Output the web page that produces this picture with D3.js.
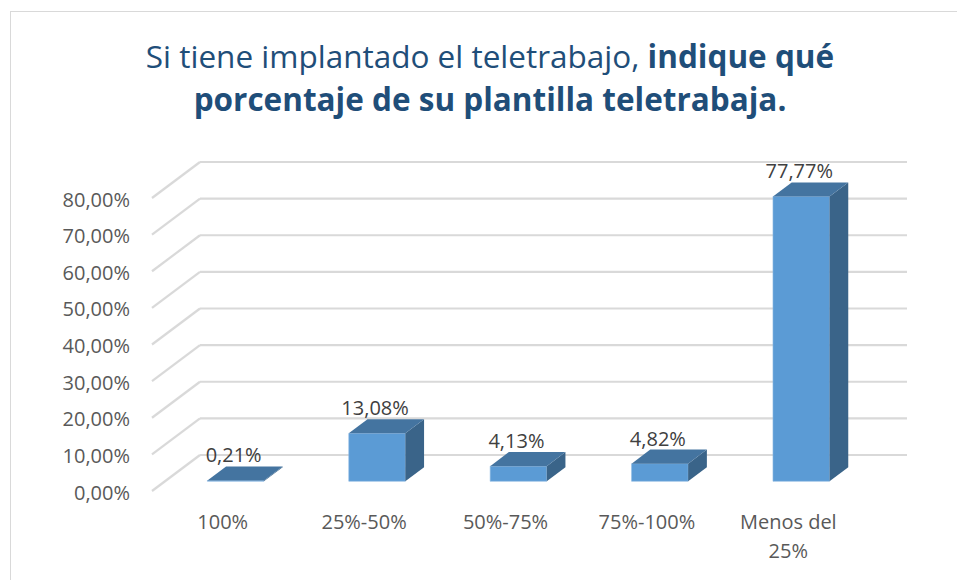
<!DOCTYPE html>
<html>
<head>
<meta charset="utf-8">
<script src="https://cdn.jsdelivr.net/npm/d3@7"></script>
<style>
  body { margin: 0; background: #fff; }
  svg { display: block; font-family: "Open Sans", "Noto Sans", sans-serif; }
</style>
</head>
<body>
<svg width="957" height="580"></svg>
<script>
// datos del gráfico
const categorias = ["100%", "25%-50%", "50%-75%", "75%-100%", "Menos del 25%"];
const valores = [0.21, 13.08, 4.13, 4.82, 77.77];
const ticks = [0, 10, 20, 30, 40, 50, 60, 70, 80];

const svg = d3.select("svg");
const es = d3.formatLocale({ decimal: ",", thousands: ".", grouping: [3], currency: ["", "€"] });
const fmt = es.format(".2f");

// marco
svg.append("rect")
    .attr("x", 10.5).attr("y", 11.5)
    .attr("width", 980).attr("height", 600)
    .attr("fill", "#fff").attr("stroke", "#d9d9d9");

// título
const titulo = svg.append("text")
    .attr("text-anchor", "middle")
    .attr("fill", "#1f4e79")
    .attr("font-size", 31.5);
const l1 = titulo.append("tspan").attr("x", 490).attr("y", 68);
l1.append("tspan").text("Si tiene implantado el teletrabajo, ");
l1.append("tspan").attr("font-weight", "bold").text("indique qué");
titulo.append("tspan").attr("x", 490).attr("y", 111)
    .attr("font-weight", "bold").text("porcentaje de su plantilla teletrabaja.");

// escalas (plano frontal) y profundidad
const x = d3.scaleBand().domain(categorias).range([152, 859]).paddingInner(0.6).paddingOuter(0.3);
const y = d3.scaleLinear().domain([0, 80]).range([491, 198]);
const DX = 48, DY = -36;   // desplazamiento de la profundidad completa
const d0 = 0.27, d1 = 0.66; // profundidad de las barras
const p = (px, v, d) => [px + d * DX, y(v) + d * DY];

const g = svg.append("g");

// cuadrícula: pared trasera y pared lateral
g.selectAll(".back").data(ticks).enter().append("line")
    .attr("x1", 152 + DX).attr("x2", 859 + DX)
    .attr("y1", d => y(d) + DY).attr("y2", d => y(d) + DY)
    .attr("stroke", "#d9d9d9").attr("stroke-width", 2.2);
g.selectAll(".side").data(ticks).enter().append("line")
    .attr("x1", 152).attr("y1", d => y(d))
    .attr("x2", 152 + DX).attr("y2", d => y(d) + DY)
    .attr("stroke", "#d9d9d9").attr("stroke-width", 2.2);

// etiquetas del eje Y
g.selectAll(".ytick").data(ticks).enter().append("text")
    .attr("x", 130).attr("y", d => y(d) + 1)
    .attr("text-anchor", "end").attr("dominant-baseline", "central")
    .attr("font-size", 20).attr("fill", "#595959")
    .text(d => fmt(d) + "%");

// barras 3D
const filas = categorias.map((c, i) => ({ c, v: valores[i] }));
const bw = x.bandwidth();
const poly = pts => pts.map(q => q.join(",")).join(" ");

const barras = g.selectAll(".bar").data(filas).enter().append("g");
barras.append("polygon")  // cara frontal
    .attr("points", d => {
        const x0 = x(d.c);
        return poly([p(x0, 0, d0), p(x0 + bw, 0, d0), p(x0 + bw, d.v, d0), p(x0, d.v, d0)]);
    })
    .attr("fill", "#5b9bd5").attr("stroke", "#8bb8e3").attr("stroke-width", 0.6);
barras.append("polygon")  // cara lateral
    .attr("points", d => {
        const x1 = x(d.c) + bw;
        return poly([p(x1, 0, d0), p(x1, 0, d1), p(x1, d.v, d1), p(x1, d.v, d0)]);
    })
    .attr("fill", "#3a6489");
barras.append("polygon")  // cara superior
    .attr("points", d => {
        const x0 = x(d.c);
        return poly([p(x0, d.v, d0), p(x0 + bw, d.v, d0), p(x0 + bw, d.v, d1), p(x0, d.v, d1)]);
    })
    .attr("fill", "#4474a0");

// etiquetas de datos
barras.append("text")
    .attr("x", d => p(x(d.c) + bw / 2, d.v, d0)[0] - 2)
    .attr("y", d => p(0, d.v, d1)[1] - 4)
    .attr("text-anchor", "middle")
    .attr("font-size", 20).attr("fill", "#404040")
    .text(d => fmt(d.v) + "%");

// etiquetas de categorías
const cat = g.selectAll(".cat").data(categorias).enter().append("text")
    .attr("text-anchor", "middle")
    .attr("font-size", 20).attr("fill", "#595959")
    .attr("y", 529);
cat.each(function (c) {
    const t = d3.select(this);
    const palabras = c.split(" ");
    const lineas = c.length > 10 ? [palabras.slice(0, -1).join(" "), palabras[palabras.length - 1]] : [c];
    lineas.forEach((l, k) => {
        t.append("tspan").attr("x", x(c) + bw / 2).attr("dy", k ? 29 : 0).text(l);
    });
});
</script>
</body>
</html>
